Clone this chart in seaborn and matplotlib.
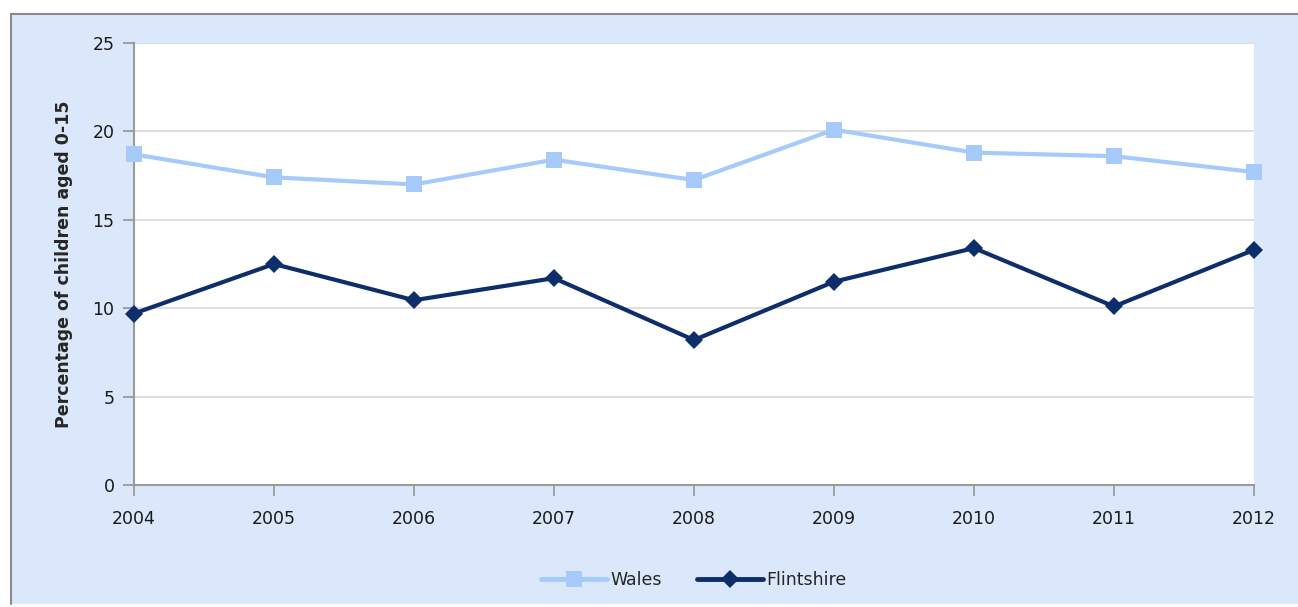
import matplotlib
matplotlib.use("Agg")
import matplotlib.pyplot as plt
import seaborn as sns
import pandas as pd
from matplotlib.patches import Rectangle

years = [2004, 2005, 2006, 2007, 2008, 2009, 2010, 2011, 2012]
wales = [18.7, 17.4, 17.0, 18.4, 17.25, 20.1, 18.8, 18.6, 17.7]
flintshire = [9.7, 12.5, 10.45, 11.7, 8.2, 11.5, 13.4, 10.1, 13.3]
series_names = ["Wales", "Flintshire"]
y_ticks = [0, 5, 10, 15, 20, 25]

df = pd.DataFrame({
    "year": years * 2,
    "value": wales + flintshire,
    "series": [series_names[0]] * len(years) + [series_names[1]] * len(years),
})

sns.set_style("white")
plt.rcParams['font.family'] = ['DejaVu Sans']

fig = plt.figure(figsize=(12.98, 6.07), dpi=100)
bg = Rectangle((11 / 1298, 3 / 607), 1 - 11 / 1298, 1 - 17 / 607, transform=fig.transFigure,
               facecolor="#dbe8fb", edgecolor="none", zorder=-10)
fig.add_artist(bg)
# gray border top and left
fig.add_artist(plt.Line2D([11 / 1298, 1], [1 - 14 / 607, 1 - 14 / 607], transform=fig.transFigure,
                          color="#8a8a8a", lw=1.5, zorder=-5))
fig.add_artist(plt.Line2D([11 / 1298, 11 / 1298], [3 / 607, 1 - 14 / 607], transform=fig.transFigure,
                          color="#8a8a8a", lw=1.5, zorder=-5))

ax = fig.add_axes([134 / 1298, 122 / 607, (1254 - 134) / 1298, (485 - 43) / 607])
ax.set_zorder(1)
ax.set_facecolor("white")

palette = {"Wales": "#a6caf9", "Flintshire": "#0d2d6b"}
markers = {"Wales": "s", "Flintshire": "D"}
sns.lineplot(data=df, x="year", y="value", hue="series", style="series",
             markers=markers, dashes=False, palette=palette, ax=ax,
             linewidth=3, markersize=11, markeredgewidth=0, legend=True, zorder=3)
for line in ax.get_lines():
    line.set_clip_on(False)
    if line.get_marker() == "D":
        line.set_markersize(9.5)

ax.set_xlim(years[0], years[-1])
ax.set_ylim(0, 25)
ax.set_yticks(y_ticks)
ax.set_xticks(years)
ax.set_xticklabels([str(y) for y in years])
ax.yaxis.grid(True, color="#d9d9d9", lw=1.2)
ax.xaxis.grid(False)
ax.set_axisbelow(True)

for s in ["top", "right"]:
    ax.spines[s].set_visible(False)
for s in ["left", "bottom"]:
    ax.spines[s].set_color("#9a9a9a")
    ax.spines[s].set_linewidth(1.5)

ax.tick_params(axis="both", which="both", direction="out", length=8, width=1.3,
               color="#9a9a9a", labelsize=12.5, labelcolor="#1a1a1a",
               bottom=True, left=True)
ax.tick_params(axis="y", pad=6)
ax.tick_params(axis="x", pad=10)
ax.set_xlabel("")
ax.set_ylabel("Percentage of children aged 0-15", fontsize=12.5, fontweight="bold",
              labelpad=14)

handles, labels = ax.get_legend_handles_labels()
leg = ax.legend(handles, labels, loc="center", bbox_to_anchor=(0.5, -0.215),
                ncol=2, frameon=False, fontsize=12.5, handlelength=3.8,
                handletextpad=0.2, columnspacing=2.0)
for h in leg.legend_handles:
    h.set_linewidth(3.5)

fig.savefig("out.png", dpi=100, facecolor="white")
